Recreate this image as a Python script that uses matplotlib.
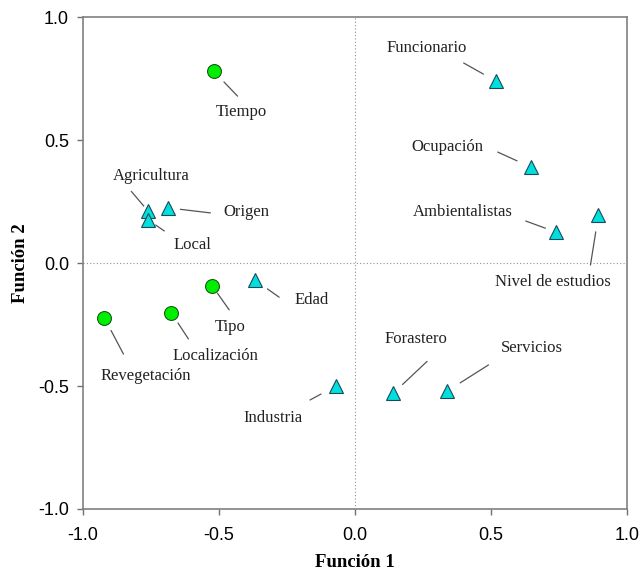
import matplotlib
matplotlib.use("Agg")
import matplotlib.pyplot as plt

# ---- data ----
circ_names = ["Tiempo", "Tipo", "Localización", "Revegetación"]
circ_x = [-0.52, -0.525, -0.675, -0.921]
circ_y = [0.78, -0.093, -0.203, -0.224]

tri_names = ["Agricultura", "Local", "Origen", "Edad", "Industria", "Forastero",
             "Servicios", "Funcionario", "Ocupación", "Ambientalistas", "Nivel de estudios"]
tri_x = [-0.76, -0.76, -0.686, -0.367, -0.07, 0.14, 0.34, 0.517, 0.646, 0.738, 0.895]
tri_y = [0.21, 0.175, 0.224, -0.07, -0.50, -0.53, -0.52, 0.74, 0.39, 0.126, 0.195]

x_ticks = [-1.0, -0.5, 0.0, 0.5, 1.0]
y_ticks = [-1.0, -0.5, 0.0, 0.5, 1.0]

# label layout (pixel offsets from marker): text centre, leader far end, leader gap at marker
layout = {
    "Tiempo": ((28, -41), (24, -25), 15),
    "Agricultura": ((3, 35), (-17, 20), 7),
    "Origen": ((78, -4), (42, -5), 12),
    "Local": ((44, -25), (16, -11), 9),
    "Edad": ((56, -20), (24, -17), 15),
    "Tipo": ((18, -41), (17, -24), 9),
    "Localización": ((44, -43), (17, -26), 12),
    "Revegetación": ((41, -58), (19, -36), 14),
    "Industria": ((-63, -32), (-26, -14), 17),
    "Forastero": ((23, 54), (34, 32), 13),
    "Servicios": ((84, 43), (41, 26), 15),
    "Funcionario": ((-69, 33), (-32, 18), 14),
    "Ocupación": ((-83, 20), (-33, 15), 15),
    "Ambientalistas": ((-93, 20), (-30, 11), 11),
    "Nivel de estudios": ((-46, -67), (-8, -50), 17),
}

fig = plt.figure(figsize=(6.4, 5.73), dpi=100)
ax = fig.add_axes([0.1297, 0.1117, 0.85, 0.8586])
ax.set_xlim(-1, 1)
ax.set_ylim(-1, 1)

ax.axhline(0, color="#909090", lw=0.8, ls=(0, (1, 2)), zorder=1)
ax.axvline(0, color="#909090", lw=0.8, ls=(0, (1, 2)), zorder=1)

ax.plot(circ_x, circ_y, "o", ms=10, mfc="#00ee00", mec="#1a5a1a", mew=0.8, ls="none", zorder=3)
ax.plot(tri_x, tri_y, "^", ms=10, mfc="#00dede", mec="#1a4a5a", mew=0.8, ls="none", zorder=3)

serif = ["Liberation Serif", "DejaVu Serif"]
for names, xs, ys in ((circ_names, circ_x, circ_y), (tri_names, tri_x, tri_y)):
    for n, x, y in zip(names, xs, ys):
        (tx, ty), (fx, fy), gap = layout[n]
        ax.annotate("", xy=(x, y), xytext=(fx, fy), textcoords="offset pixels",
                    arrowprops=dict(arrowstyle="-", color="#555555", lw=0.9,
                                    shrinkA=0, shrinkB=gap * 0.72), zorder=2)
        ax.annotate(n, xy=(x, y), xytext=(tx, ty), textcoords="offset pixels",
                    ha="center", va="center", fontsize=12, family=serif, color="#222222")

ax.set_xticks(x_ticks)
ax.set_yticks(y_ticks)
ax.set_xticklabels([f"{v:.1f}" for v in x_ticks], family="Liberation Sans", fontsize=13)
ax.set_yticklabels([f"{v:.1f}" for v in y_ticks], family="Liberation Sans", fontsize=13)
ax.tick_params(direction="out", length=4, width=1, color="#707070")
ax.tick_params(axis="x", pad=9)
ax.tick_params(axis="y", pad=6)
for s in ax.spines.values():
    s.set_color("#808080")
    s.set_linewidth(1.2)

ax.set_xlabel("Función 1", family=serif, fontsize=13.5, fontweight="bold", labelpad=7)
ax.set_ylabel("Función 2", family=serif, fontsize=13.5, fontweight="bold", labelpad=7)

fig.savefig("out.png", dpi=100)
